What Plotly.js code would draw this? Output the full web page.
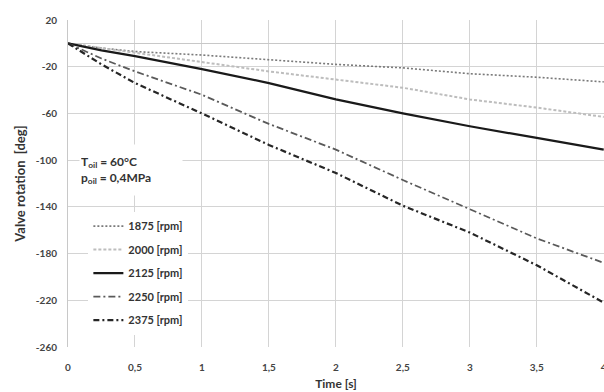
<!DOCTYPE html>
<html>
<head>
<meta charset="utf-8">
<script src="https://cdn.plot.ly/plotly-3.0.1.min.js"></script>
<style>html,body{margin:0;padding:0;background:#fff;}#chart{width:604px;height:392px;}</style>
</head>
<body>
<div id="chart"></div>
<script>
// Time axis samples [s]
const time = [0, 0.25, 0.5, 1, 1.5, 2, 2.5, 3, 3.5, 4];
// Valve rotation [deg] per engine speed
const rpm1875 = [0, -4, -7, -10, -14, -18, -21, -26, -29, -33];
const rpm2000 = [0, -4, -8, -16, -24, -31, -38, -48, -55, -63];
const rpm2125 = [0, -6, -11, -22, -34, -48, -60, -71, -81, -91];
const rpm2250 = [0, -13, -24, -44, -69, -91, -117, -142, -167, -188];
const rpm2375 = [0, -18, -34, -60, -87, -111, -139, -162, -190, -222];
const seriesNames = ["1875 [rpm]", "2000 [rpm]", "2125 [rpm]", "2250 [rpm]", "2375 [rpm]"];
const xTickVals = [0, 0.5, 1, 1.5, 2, 2.5, 3, 3.5, 4];
const xTickText = ["0", "0,5", "1", "1,5", "2", "2,5", "3", "3,5", "4"];
const yTickVals = [20, -20, -60, -100, -140, -180, -220, -260];
const yTickText = ["20", "-20", "-60", "-100", "-140", "-180", "-220", "-260"];

const styles = [
  {color: "#7a7a7a", width: 1.6, dash: "2px,2px"},
  {color: "#bdbdbd", width: 2, dash: "3px,2px"},
  {color: "#1a1a1a", width: 2.2, dash: "solid"},
  {color: "#5a5a5a", width: 1.8, dash: "7px,3px,2px,3px"},
  {color: "#262626", width: 2.2, dash: "6px,3px,2px,3px"}
];
const values = [rpm1875, rpm2000, rpm2125, rpm2250, rpm2375];
const traces = values.map((v, i) => ({
  x: time, y: v, type: "scatter", mode: "lines", name: seriesNames[i],
  legendgroup: "g" + i, line: styles[i]
}));

const fontFam = "Lato, 'Open Sans', sans-serif";
const layout = {
  width: 604, height: 392,
  margin: {l: 68, r: 0, t: 20, b: 45},
  paper_bgcolor: "#fff", plot_bgcolor: "#fff",
  showlegend: true,
  legend: {
    x: 0.038, y: 0.414, xanchor: "left", yanchor: "top",
    bgcolor: "#ffffff", borderwidth: 0,
    font: {family: fontFam, size: 11, color: "#333", weight: "bold"},
    tracegroupgap: 4.5, itemwidth: 30
  },
  xaxis: {
    range: [0, 4.002], tickvals: xTickVals, ticktext: xTickText,
    showgrid: true, gridcolor: "#d4d4d4", gridwidth: 1,
    zeroline: false, showline: false, ticks: "",
    ticklabelstandoff: 13, ticklabeloverflow: "allow",
    tickfont: {family: fontFam, size: 10, color: "#444", weight: "bold"},
    title: {text: "Time [s]", font: {family: fontFam, size: 12, color: "#333", weight: "bold"}, standoff: 7},
    fixedrange: true
  },
  yaxis: {
    range: [-260, 20], tickvals: yTickVals, ticktext: yTickText,
    showgrid: true, gridcolor: "#d4d4d4", gridwidth: 1,
    zeroline: true, zerolinecolor: "#c8c8c8", zerolinewidth: 1,
    showline: true, linecolor: "#c8c8c8", linewidth: 1, ticks: "",
    ticklabelstandoff: 8,
    tickfont: {family: fontFam, size: 10, color: "#444", weight: "bold"},
    title: {text: "Valve rotation  [deg]", font: {family: fontFam, size: 13, color: "#333", weight: "bold"}, standoff: 7},
    fixedrange: true
  },
  annotations: [{
    xref: "paper", yref: "paper", x: 0.02, y: 0.542, xanchor: "left", yanchor: "middle",
    text: "T<sub>oil</sub> = 60°C<br>p<sub>oil</sub> = 0,4MPa",
    align: "left", showarrow: false, bgcolor: "#ffffff", width: 100, height: 48,
    font: {family: fontFam, size: 12, color: "#333", weight: "bold"}
  }]
};
Plotly.newPlot("chart", traces, layout, {displayModeBar: false, staticPlot: true});
</script>
</body>
</html>
